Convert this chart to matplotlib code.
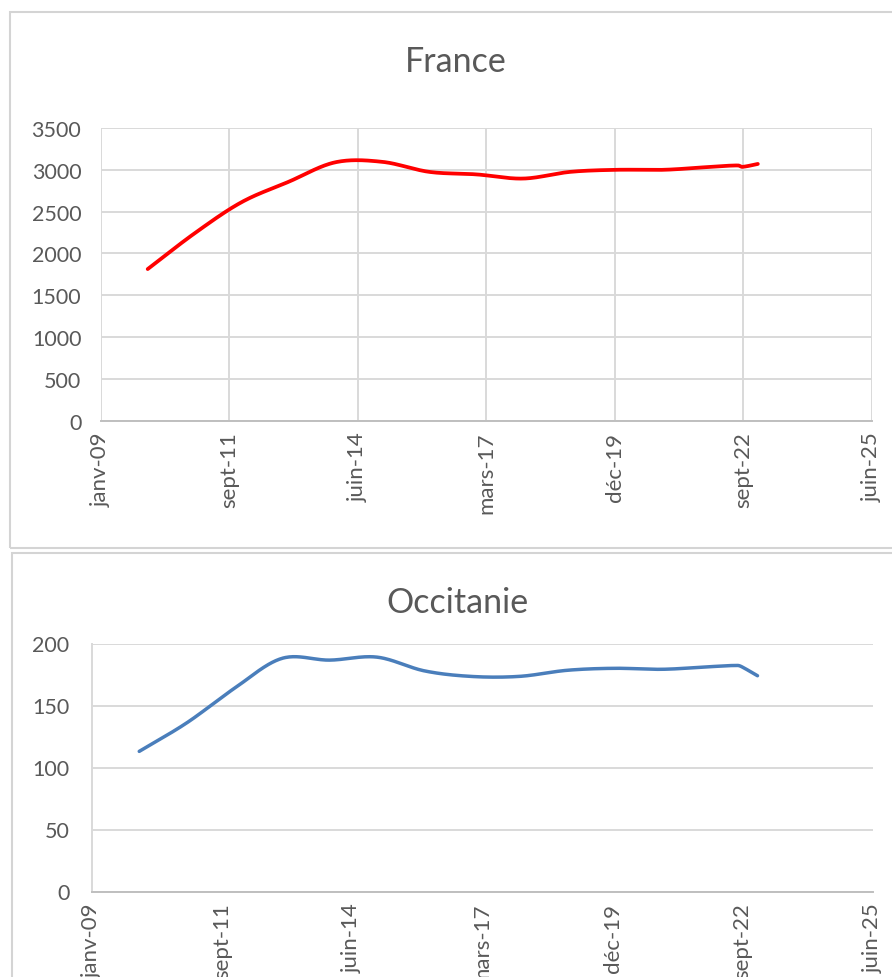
import datetime as dt
import numpy as np
import matplotlib
matplotlib.use('Agg')
import matplotlib.pyplot as plt
import matplotlib.dates as mdates
from matplotlib.patches import Rectangle

plt.rcParams['font.family'] = ['Lato', 'DejaVu Sans']

# donnees
dates = ['2010-01-01', '2011-01-01', '2012-01-01', '2013-01-01', '2014-01-01',
         '2015-01-01', '2016-01-01', '2017-01-01', '2018-01-01', '2019-01-01',
         '2020-01-01', '2021-01-01', '2022-01-01', '2022-08-01', '2022-09-01',
         '2023-01-01']
france = [1812, 2240, 2612, 2856, 3090, 3095, 2975, 2945, 2895, 2975,
          3000, 3000, 3035, 3052, 3035, 3070]
occitanie = [113, 136, 163.8, 188, 186.6, 189, 177.9, 173.4, 173.5, 178.4,
             180, 179.2, 181.3, 182.3, 181.3, 174]
tick_labels = ['janv-09', 'sept-11', 'juin-14', 'mars-17', 'déc-19', 'sept-22', 'juin-25']

W, H = 892, 978
gris_txt = '#595959'
gris_grille = '#D9D9D9'


def lisser(x, y, n=40):
    # courbe lissee type Excel (Hermite, tangentes Catmull-Rom)
    x = np.asarray(x, float)
    y = np.asarray(y, float)
    m = np.empty_like(y)
    m[1:-1] = (y[2:] - y[:-2]) / (x[2:] - x[:-2])
    m[0] = (y[1] - y[0]) / (x[1] - x[0])
    m[-1] = (y[-1] - y[-2]) / (x[-1] - x[-2])
    xs, ys = [], []
    t = np.linspace(0, 1, n)
    for i in range(len(x) - 1):
        h = x[i + 1] - x[i]
        h00 = 2 * t**3 - 3 * t**2 + 1
        h10 = t**3 - 2 * t**2 + t
        h01 = -2 * t**3 + 3 * t**2
        h11 = t**3 - t**2
        xs.append(x[i] + t * h)
        ys.append(h00 * y[i] + h10 * h * m[i] + h01 * y[i + 1] + h11 * h * m[i + 1])
    return np.concatenate(xs), np.concatenate(ys)


x = mdates.date2num([dt.datetime.strptime(d, '%Y-%m-%d') for d in dates])
x0 = mdates.date2num(dt.datetime(2009, 1, 1))
xticks = [x0 + 1000 * i for i in range(len(tick_labels))]

fig = plt.figure(figsize=(W / 100, H / 100), dpi=100)
fig.patch.set_facecolor('white')

# cadres des deux graphiques
fig.patches.append(Rectangle((10 / W, 1 - 549 / H), 900 / W, 536 / H, transform=fig.transFigure,
                             fill=False, ec='#D4D4D4', lw=1.5))
fig.patches.append(Rectangle((12 / W, 1 - 1000 / H), 900 / W, 446 / H, transform=fig.transFigure,
                             fill=False, ec='#D4D4D4', lw=1.5))

ax1 = fig.add_axes([100.8 / W, 1 - 421.5 / H, 771 / W, 292.5 / H])
ax2 = fig.add_axes([91.7 / W, 1 - 892.5 / H, 781.3 / W, 248 / H])

for ax in (ax1, ax2):
    ax.set_xlim(xticks[0], xticks[-1])
    ax.set_xticks(xticks)
    ax.set_xticklabels(tick_labels, rotation=90, va='top', ha='center')
    ax.tick_params(length=0, labelsize=15.5, labelcolor=gris_txt)
    ax.tick_params(axis='x', pad=8, labelsize=16)
    for s in ax.spines.values():
        s.set_visible(False)
    ax.spines['bottom'].set_visible(True)
    ax.spines['bottom'].set_color('#BFBFBF')
    ax.spines['bottom'].set_linewidth(1.4)
    ax.set_axisbelow(True)

xs, ys = lisser(x, france)
ax1.plot(xs, ys, color='#FF0000', lw=2.7, solid_capstyle='round')
ax1.set_ylim(0, 3500)
ax1.set_yticks(np.arange(0, 3501, 500))
ax1.tick_params(axis='y', pad=14)
ax1.grid(True, color=gris_grille, lw=1.4)

xs, ys = lisser(x, occitanie)
ax2.plot(xs, ys, color='#4A7EBB', lw=2.5, solid_capstyle='round')
ax2.set_ylim(0, 200)
ax2.set_yticks(np.arange(0, 201, 50))
ax2.tick_params(axis='y', pad=16)
ax2.grid(True, axis='y', color=gris_grille, lw=1.4)
ax2.spines['left'].set_visible(True)
ax2.spines['left'].set_color(gris_grille)
ax2.spines['left'].set_linewidth(1.4)

fig.text(456 / W, 1 - 62 / H, 'France', ha='center', va='center', fontsize=24.5, color=gris_txt)
fig.text(457 / W, 1 - 603 / H, 'Occitanie', ha='center', va='center', fontsize=24.5, color=gris_txt)

fig.savefig('out.png', dpi=100)
